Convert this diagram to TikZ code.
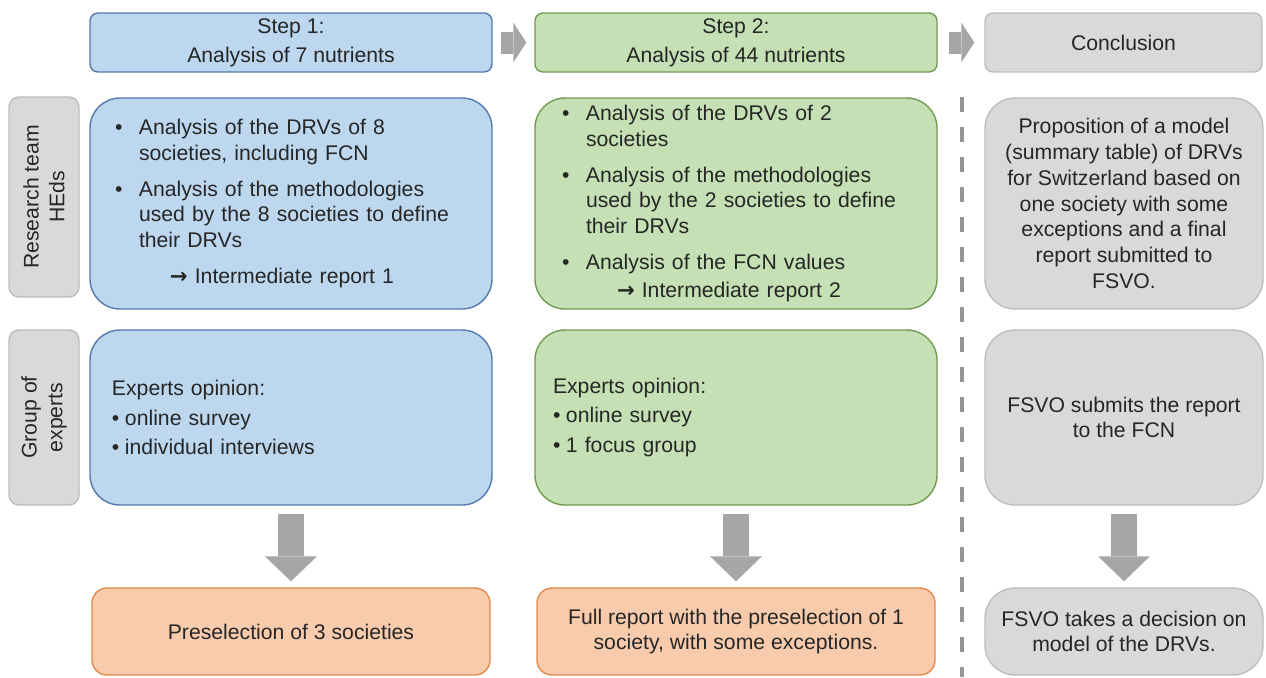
\documentclass[tikz,border=0pt]{standalone}
\usepackage{fontspec}
\setmainfont{Liberation Sans}
\newfontfamily\arrowfont{DejaVu Sans}
\usetikzlibrary{arrows.meta}
\definecolor{bluefill}{HTML}{BDD7EE}
\definecolor{blueline}{HTML}{5479AC}
\definecolor{greenfill}{HTML}{C5E0B4}
\definecolor{greenline}{HTML}{719B52}
\definecolor{orangefill}{HTML}{F8CBAD}
\definecolor{orangeline}{HTML}{E3894A}
\definecolor{grayfill}{HTML}{D9D9D9}
\definecolor{grayline}{HTML}{BDBDBD}
\definecolor{arrowgray}{HTML}{A6A6A6}
\newcommand{\bul}{\makebox[12pt][l]{\textbullet}}
\newcommand{\indt}{\hspace*{12pt}}
\newcommand{\sbul}{\makebox[6.5pt][l]{\textbullet}}
\newcommand{\toarrow}{{\arrowfont\bfseries →}}

\begin{document}
\begin{tikzpicture}[x=0.5pt,y=-0.5pt,font=\fontsize{10.6}{12.9}\selectfont,
  head/.style={draw,line width=0.7pt,rounded corners=4pt,minimum height=29.5pt,align=center,inner sep=0pt,text=black!85},
  box/.style={draw,line width=0.7pt,rounded corners=15pt,align=left,inner ysep=0pt,text=black!85},
  lab/.style={draw=grayline,fill=grayfill,line width=0.7pt,rounded corners=5pt,rotate=90,align=center,
    inner sep=0pt,minimum height=35pt,text=black!85},
  res/.style={draw,line width=0.7pt,rounded corners=7.5pt,align=center,inner sep=0pt,
    minimum width=199pt,minimum height=43.5pt,text=black!85},
  flow/.style={draw=arrowgray,line width=11pt,-{Triangle[length=6.5pt,width=20pt,line width=0pt]}},
  down/.style={draw=arrowgray,line width=13pt,-{Triangle[length=12.5pt,width=26pt,line width=0pt]},
    shorten <=4pt,shorten >=3pt},
  sep/.style={draw=arrowgray!90!black,line width=1.75pt,dash pattern=on 7.5pt off 7.5pt}]
\useasboundingbox (0,0) rectangle (1266,677);

\node[head,fill=bluefill,draw=blueline,minimum width=201pt] (step1) at (291,42.5)
  {Step 1:\\[1.5pt]Analysis of 7 nutrients};
\node[head,fill=greenfill,draw=greenline,minimum width=201pt] (step2) at (736,42.5)
  {Step 2:\\[1.5pt]Analysis of 44 nutrients};
\node[head,fill=grayfill,draw=grayline,minimum width=138.5pt] (concl) at (1123.5,42.5) {Conclusion};
\draw[flow,shorten <=4pt,shorten >=4pt] (step1.east) -- (step2.west);
\draw[flow,shorten <=5.5pt,shorten >=5pt] (step2.east) -- (concl.west);

\node[lab,minimum width=100pt] (team) at (44,197) {Research team\\HEds};
\node[lab,minimum width=87.5pt] (experts) at (44,417.5) {Group of\\experts};

\node[box,fill=bluefill,draw=blueline,text width=176pt,inner xsep=12.5pt,minimum height=105.5pt] (drv1) at (291,203.5)
  {\bul Analysis of the DRVs of 8\\
   \indt societies, including FCN\\[5pt]
   \bul Analysis of the methodologies\\
   \indt used by the 8 societies to define\\
   \indt their DRVs\\[5pt]
   \hspace*{27.5pt}\toarrow{} Intermediate report 1};
\node[box,fill=greenfill,draw=greenline,text width=174pt,inner xsep=13.5pt,minimum height=105.5pt] (drv2) at (736,203.5)
  {\bul Analysis of the DRVs of 2\\
   \indt societies\\[5pt]
   \bul Analysis of the methodologies\\
   \indt used by the 2 societies to define\\
   \indt their DRVs\\[5pt]
   \bul Analysis of the FCN values\\[1pt]
   \hspace*{27.5pt}\toarrow{} Intermediate report 2};
\node[box,fill=grayfill,draw=grayline,minimum width=139pt,minimum height=105.5pt,align=center,inner xsep=0pt] (model) at (1124,203.5)
  {Proposition of a model\\(summary table) of DRVs\\for Switzerland based on\\one society with some\\exceptions and a final\\report submitted to\\FSVO.};

\node[box,fill=bluefill,draw=blueline,text width=179pt,inner xsep=11pt,minimum height=87.5pt] (opin1) at (291,417.5)
  {Experts opinion:\\[2pt]
   \sbul online survey\\[2pt]
   \sbul individual interviews};
\node[box,fill=greenfill,draw=greenline,text width=183pt,inner xsep=9pt,minimum height=87.5pt] (opin2) at (736,417.5)
  {Experts opinion:\\[2pt]
   \sbul online survey\\[2pt]
   \sbul 1 focus group};
\node[box,fill=grayfill,draw=grayline,minimum width=139pt,minimum height=87.5pt,align=center,inner xsep=0pt] (submit) at (1124,417.5)
  {FSVO submits the report\\to the FCN};

\node[res,fill=orangefill,draw=orangeline] (presel) at (291,631.5) {Preselection of 3 societies};
\node[res,fill=orangefill,draw=orangeline] (report) at (736,631.5)
  {Full report with the preselection of 1\\society, with some exceptions.};
\node[res,fill=grayfill,draw=grayline,minimum width=139pt,rounded corners=15pt] (decide) at (1124,631.5)
  {FSVO takes a decision on\\model of the DRVs.};

\draw[down] (opin1.south) -- (presel.north);
\draw[down] (opin2.south) -- (report.north);
\draw[down] (submit.south) -- (decide.north);

\coordinate (septop) at (962,97);
\coordinate (sepbot) at (962,677);
\draw[sep] (septop) -- (sepbot);
\end{tikzpicture}
\end{document}
